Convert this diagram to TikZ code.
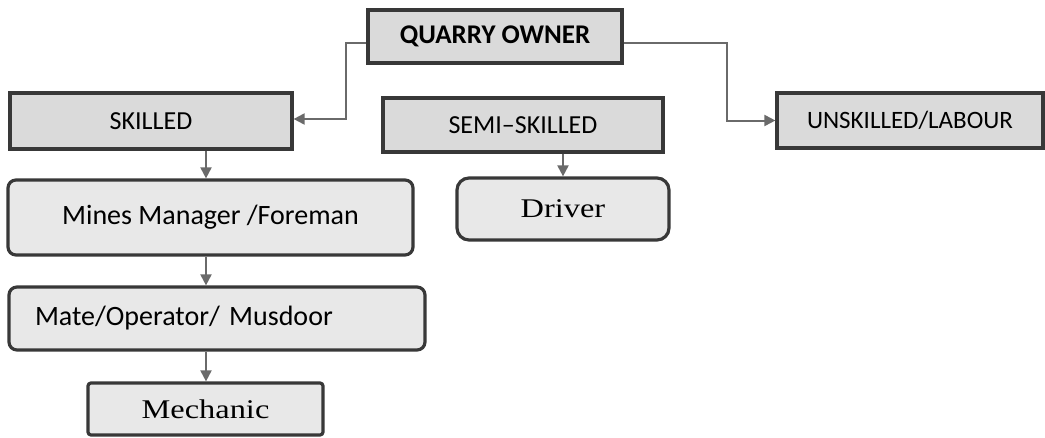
\documentclass[tikz,border=0pt]{standalone}
\usepackage{fontspec}
\setmainfont{Carlito}
\newfontfamily\serifb[FakeStretch=1.2]{Liberation Serif}
\usetikzlibrary{arrows.meta}
\definecolor{edge}{HTML}{383838}
\definecolor{headfill}{HTML}{DADADA}
\definecolor{boxfill}{HTML}{E8E8E8}
\definecolor{arr}{HTML}{6A6A6A}
\tikzset{
  headbox/.style={draw=edge, line width=3.2pt, fill=headfill, inner sep=0pt, font=\fontsize{26}{30}\selectfont},
  roundbox/.style={draw=edge, line width=3.2pt, fill=boxfill, inner sep=0pt, rounded corners=8pt, font=\fontsize{28}{32}\selectfont},
  conn/.style={draw=arr, line width=2pt, -{Triangle[length=11pt,width=11pt]}},
}
\begin{document}
\begin{tikzpicture}[x=1pt,y=-1pt]
\useasboundingbox (0,0) rectangle (1045,437);
\node[headbox, minimum width=254pt, minimum height=53pt, font=\fontsize{27}{30}\selectfont\bfseries] (owner) at (495,36.5) {QUARRY OWNER};
\node[headbox, minimum width=282pt, minimum height=56pt] (skilled) at (151,121) {SKILLED};
\node[headbox, minimum width=280pt, minimum height=54pt] (semi) at (523,125) {SEMI–SKILLED};
\node[headbox, minimum width=266pt, minimum height=55pt, font=\fontsize{25}{30}\selectfont] (unsk) at (910,120.5) {UNSKILLED/LABOUR};
\node[roundbox, minimum width=405pt, minimum height=75pt] (mines) at (210.5,217.5) {Mines Manager /Foreman};
\node[roundbox, minimum width=416pt, minimum height=63pt, text width=364pt, align=left, inner xsep=26pt] (mate) at (217,318.5) {Mate/Operator/ Musdoor};
\node[roundbox, rounded corners=12pt, minimum width=212pt, minimum height=62pt, font=\fontsize{27}{30}\serifb] (driver) at (563,209) {Driver};
\node[roundbox, rounded corners=3pt, minimum width=235pt, minimum height=52pt, font=\fontsize{27}{30}\serifb] (mech) at (205.5,409) {Mechanic};
\coordinate (lx) at (206,0);
\coordinate (lbend) at (346,0);
\coordinate (rbend) at (727,0);
\draw[conn] ([yshift=-6pt]owner.west) -- ([yshift=-6pt]owner.west -| lbend) |- ([yshift=2pt]skilled.east);
\draw[conn] ([yshift=-6pt]owner.east) -- ([yshift=-6pt]owner.east -| rbend) |- (unsk.west);
\draw[conn] (skilled.south -| lx) -- (mines.north -| lx);
\draw[conn] (mines.south -| lx) -- (mate.north -| lx);
\draw[conn] (mate.south -| lx) -- (mech.north -| lx);
\draw[conn] (semi.south -| driver.north) -- (driver.north);
\end{tikzpicture}
\end{document}
